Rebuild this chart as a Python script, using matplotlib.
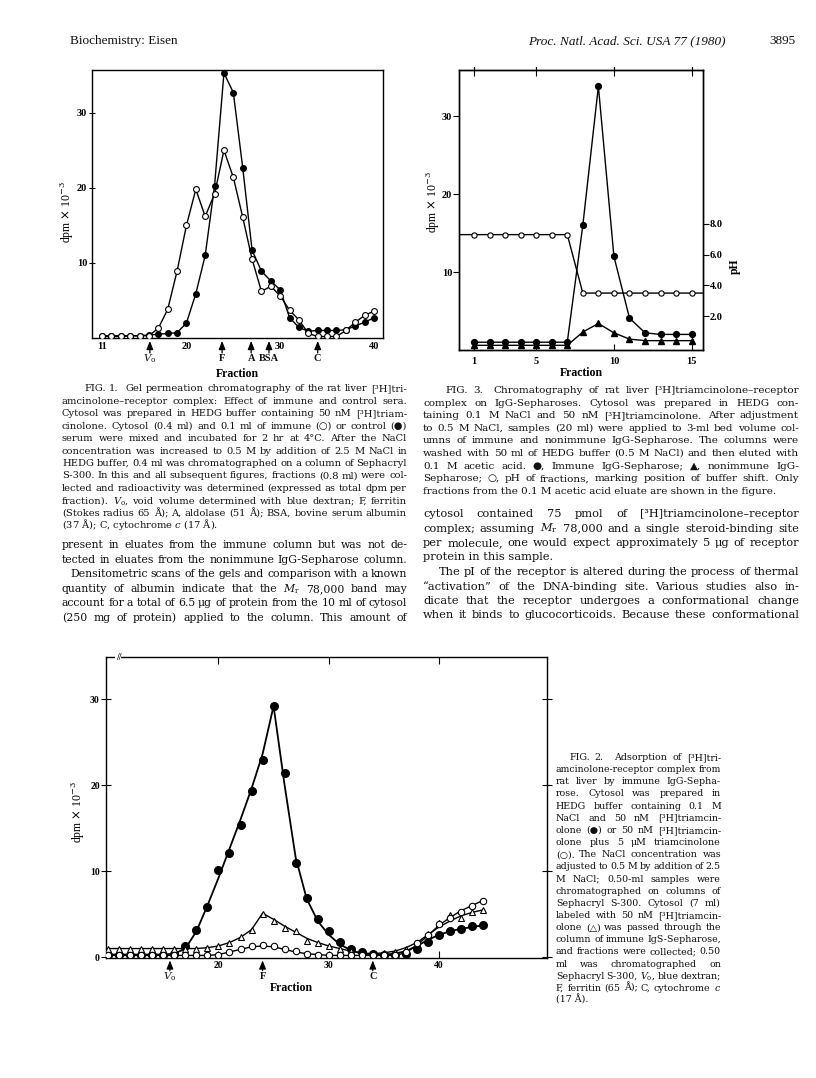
import matplotlib
matplotlib.use("Agg")
import matplotlib.pyplot as plt
from matplotlib.ticker import FormatStrFormatter

# --- 1. PAGE + DATA ---
W, H = 816, 1078

# Fig. 1: gel permeation, immune (open) vs control (filled) serum
fig1_fraction = list(range(11, 41))
fig1_immune = [0.2, 0.2, 0.2, 0.3, 0.3, 0.3, 1.3, 3.8, 8.9, 15.0,
               19.8, 16.2, 19.2, 25.0, 21.4, 16.1, 10.5, 6.2, 6.9, 5.6,
               3.7, 2.4, 0.6, 0.2, 0.2, 0.2, 1.0, 2.1, 3.0, 3.6]
fig1_control = [0.3, 0.3, 0.3, 0.3, 0.3, 0.4, 0.5, 0.6, 0.7, 2.0,
                5.9, 11.0, 20.3, 35.3, 32.7, 22.7, 11.7, 8.9, 7.6, 6.4,
                2.7, 1.4, 0.9, 1.0, 1.0, 1.0, 1.1, 1.6, 2.1, 2.7]
fig1_std_names = ["$V_\\mathrm{o}$", "F", "A", "BSA", "C"]
fig1_std_pos = [16.1, 23.8, 26.9, 28.8, 34.0]

# Fig. 3: IgG-Sepharose eluates
fig3_fraction = list(range(1, 16))
fig3_immune = [1.0, 1.0, 1.0, 1.0, 1.0, 1.0, 1.0, 16.0, 33.8, 12.0, 4.1, 2.2, 2.0, 2.0, 2.0]
fig3_nonimmune = [0.6, 0.6, 0.6, 0.6, 0.6, 0.6, 0.6, 2.3, 3.4, 2.2, 1.4, 1.2, 1.2, 1.2, 1.2]
fig3_ph = [7.3, 7.3, 7.3, 7.3, 7.3, 7.3, 7.3, 3.5, 3.5, 3.5, 3.5, 3.5, 3.5, 3.5, 3.5]

# Fig. 2: adsorption by immune IgG-Sepharose
fig2_fraction = list(range(10, 45))
fig2_hot = [0.3, 0.3, 0.3, 0.3, 0.3, 0.3, 0.4, 1.3, 3.1, 5.8,
            10.1, 12.1, 15.4, 19.3, 22.9, 29.2, 21.4, 10.9, 6.9, 4.4,
            3.0, 1.8, 1.0, 0.6, 0.4, 0.3, 0.3, 0.4, 0.9, 1.8,
            2.6, 3.0, 3.3, 3.6, 3.7]
fig2_flow = [1.0, 1.0, 1.0, 1.0, 1.0, 1.0, 1.0, 1.0, 1.0, 1.1,
             1.3, 1.6, 2.4, 3.1, 5.0, 4.2, 3.4, 3.0, 1.9, 1.6,
             1.3, 1.0, 0.7, 0.5, 0.4, 0.5, 0.6, 0.9, 1.6, 2.7,
             4.0, 4.9, 4.6, 5.3, 5.5]
fig2_cold = [0.2, 0.2, 0.2, 0.2, 0.2, 0.2, 0.2, 0.2, 0.2, 0.2,
             0.3, 0.6, 1.0, 1.3, 1.4, 1.3, 1.0, 0.7, 0.4, 0.3,
             0.2, 0.2, 0.2, 0.2, 0.2, 0.2, 0.2, 0.6, 1.6, 2.6,
             3.9, 4.6, 5.3, 6.0, 6.5]
# hand-drawn smooth curves, read at the same fractions
fig2_hot_curve = [0.3, 0.3, 0.3, 0.3, 0.3, 0.3, 0.4, 1.0, 3.0, 6.0,
                  9.2, 12.6, 16.0, 19.6, 23.6, 29.2, 20.0, 11.6, 6.8, 4.2,
                  2.6, 1.5, 0.8, 0.4, 0.3, 0.3, 0.4, 0.7, 1.3, 2.0,
                  2.6, 3.0, 3.3, 3.5, 3.7]
fig2_flow_curve = [1.0, 1.0, 1.0, 1.0, 1.0, 1.0, 1.0, 1.0, 1.0, 1.1,
                   1.3, 1.7, 2.3, 3.2, 5.1, 4.4, 3.6, 2.9, 2.2, 1.7,
                   1.3, 1.0, 0.7, 0.5, 0.4, 0.5, 0.7, 1.1, 1.7, 2.6,
                   3.5, 4.2, 4.8, 5.2, 5.5]
fig2_cold_curve = [0.2, 0.2, 0.2, 0.2, 0.2, 0.2, 0.2, 0.2, 0.2, 0.2,
                   0.3, 0.6, 0.9, 1.2, 1.3, 1.2, 0.9, 0.6, 0.4, 0.3,
                   0.2, 0.2, 0.2, 0.2, 0.2, 0.2, 0.2, 0.5, 1.4, 2.5,
                   3.7, 4.6, 5.4, 6.0, 6.6]
fig2_std_names = ["$V_\\mathrm{o}$", "F", "C"]
fig2_std_pos = [15.6, 24.0, 34.0]

# --- 2. TEXT ---
fig1_caption = [
    ">FIG. 1.  Gel permeation chromatography of the rat liver [³H]tri-",
    "amcinolone–receptor complex: Effect of immune and control sera.",
    "Cytosol was prepared in HEDG buffer containing 50 nM [³H]triam-",
    "cinolone. Cytosol (0.4 ml) and 0.1 ml of immune (○) or control (●)",
    "serum were mixed and incubated for 2 hr at 4°C. After the NaCl",
    "concentration was increased to 0.5 M by addition of 2.5 M NaCl in",
    "HEDG buffer, 0.4 ml was chromatographed on a column of Sephacryl",
    "S-300. In this and all subsequent figures, fractions (0.8 ml) were col-",
    "lected and radioactivity was determined (expressed as total dpm per",
    "fraction). $V_\\mathrm{o}$, void volume determined with blue dextran; F, ferritin",
    "(Stokes radius 65 Å); A, aldolase (51 Å); BSA, bovine serum albumin",
    "(37 Å); C, cytochrome $c$ (17 Å).|",
]
left_body = [
    "present in eluates from the immune column but was not de-",
    "tected in eluates from the nonimmune IgG-Sepharose column.",
    ">Densitometric scans of the gels and comparison with a known",
    "quantity of albumin indicate that the $M_\\mathrm{r}$ 78,000 band may",
    "account for a total of 6.5 μg of protein from the 10 ml of cytosol",
    "(250 mg of protein) applied to the column. This amount of",
]
fig3_caption = [
    ">FIG. 3.  Chromatography of rat liver [³H]triamcinolone–receptor",
    "complex on IgG-Sepharoses. Cytosol was prepared in HEDG con-",
    "taining 0.1 M NaCl and 50 nM [³H]triamcinolone. After adjustment",
    "to 0.5 M NaCl, samples (20 ml) were applied to 3-ml bed volume col-",
    "umns of immune and nonimmune IgG-Sepharose. The columns were",
    "washed with 50 ml of HEDG buffer (0.5 M NaCl) and then eluted with",
    "0.1 M acetic acid. ●, Immune IgG-Sepharose; ▲, nonimmune IgG-",
    "Sepharose; ○, pH of fractions, marking position of buffer shift. Only",
    "fractions from the 0.1 M acetic acid eluate are shown in the figure.|",
]
right_body = [
    "cytosol contained 75 pmol of [³H]triamcinolone–receptor",
    "complex; assuming $M_\\mathrm{r}$ 78,000 and a single steroid-binding site",
    "per molecule, one would expect approximately 5 μg of receptor",
    "protein in this sample.|",
    ">The pI of the receptor is altered during the process of thermal",
    "“activation” of the DNA-binding site. Various studies also in-",
    "dicate that the receptor undergoes a conformational change",
    "when it binds to glucocorticoids. Because these conformational",
]
fig2_caption = [
    ">FIG. 2.  Adsorption of [³H]tri-",
    "amcinolone-receptor complex from",
    "rat liver by immune IgG-Sepha-",
    "rose. Cytosol was prepared in",
    "HEDG buffer containing 0.1 M",
    "NaCl and 50 nM [³H]triamcin-",
    "olone (●) or 50 nM [³H]triamcin-",
    "olone plus 5 μM triamcinolone",
    "(○). The NaCl concentration was",
    "adjusted to 0.5 M by addition of 2.5",
    "M NaCl; 0.50-ml samples were",
    "chromatographed on columns of",
    "Sephacryl S-300. Cytosol (7 ml)",
    "labeled with 50 nM [³H]triamcin-",
    "olone (△) was passed through the",
    "column of immune IgS-Sepharose,",
    "and fractions were collected; 0.50",
    "ml was chromatographed on",
    "Sephacryl S-300, $V_\\mathrm{o}$, blue dextran;",
    "F, ferritin (65 Å); C, cytochrome $c$",
    "(17 Å).|",
]

# --- 3. STYLE ---
plt.rcParams['font.family'] = ['Liberation Serif', 'DejaVu Sans']
plt.rcParams['mathtext.fontset'] = 'custom'
plt.rcParams['mathtext.rm'] = 'DejaVu Serif'
plt.rcParams['mathtext.it'] = 'DejaVu Serif:italic'
plt.rcParams['mathtext.bf'] = 'DejaVu Serif:bold'
plt.rcParams['axes.linewidth'] = 1.0
plt.rcParams['text.color'] = '#111111'
BODY_FONT = ['DejaVu Serif', 'DejaVu Sans']

fig = plt.figure(figsize=(W / 100, H / 100), dpi=100)
rend = fig.canvas.get_renderer()


def axes_px(l, t, r, b):
    return fig.add_axes([l / W, 1 - b / H, (r - l) / W, (b - t) / H])


def text_block(lines, x0, x1, y0, dy, size, indent):
    # justified lines; '>' = indented first line, '|' = last line of paragraph
    for i, raw in enumerate(lines):
        y = 1 - (y0 + i * dy) / H
        left = x0 + (indent if raw.startswith('>') else 0)
        s = raw.lstrip('>')
        if s.endswith('|'):
            fig.text(left / W, y, s[:-1], fontsize=size, va='baseline', family=BODY_FONT)
            continue
        parts = [fig.text(0, y, w, fontsize=size, va='baseline', family=BODY_FONT)
                 for w in s.split(' ')]
        widths = [p.get_window_extent(rend).width for p in parts]
        gap = (x1 - left - sum(widths)) / (len(parts) - 1)
        if gap < 2.0:
            k = (x1 - left - 2.0 * (len(parts) - 1)) / sum(widths)
            for p in parts:
                p.set_fontsize(size * k)
            widths = [w * k for w in widths]
            gap = 2.0
        x = left
        for p, w in zip(parts, widths):
            p.set_x(x / W)
            x += w + gap


def standards(ax, names, pos, y0, y1, ylab, size):
    tr = ax.get_xaxis_transform()
    for name, x in zip(names, pos):
        ax.annotate('', xy=(x, y1), xytext=(x, y0), xycoords=tr, textcoords=tr,
                    annotation_clip=False,
                    arrowprops=dict(arrowstyle='-|>,head_length=0.5,head_width=0.2',
                                    color='k', lw=0.9, shrinkA=0, shrinkB=0))
        ax.text(x, ylab, name, transform=tr, ha='center', va='center',
                fontsize=size, fontweight='bold')


def bold_ticks(ax):
    for t in ax.get_xticklabels() + ax.get_yticklabels():
        t.set_fontweight('bold')


# --- 4. HEADER ---
fig.text(70 / W, 1 - 44 / H, "Biochemistry: Eisen", fontsize=9.5, va='baseline')
fig.text(726 / W, 1 - 44 / H, "Proc. Natl. Acad. Sci. USA 77 (1980)", fontsize=9.5,
         style='italic', ha='right', va='baseline')
fig.text(796 / W, 1 - 44 / H, "3895", fontsize=9.5, ha='right', va='baseline')

# --- 5. FIG. 1 ---
ax1 = axes_px(92, 70, 383, 338)
ax1.plot(fig1_fraction, fig1_control, '-o', color='k', lw=1.0, ms=4, zorder=3)
ax1.plot(fig1_fraction, fig1_immune, '-o', color='k', lw=1.0, ms=4.2,
         mfc='white', mec='k', mew=0.8, zorder=4)
ax1.set_xlim(9.93, 40.96)
ax1.set_ylim(0, 35.7)
ax1.set_xticks([11, 20, 30, 40])
ax1.set_yticks([10, 20, 30])
ax1.tick_params(axis='x', length=0, pad=3, labelsize=7.5)
ax1.tick_params(axis='y', direction='inout', length=5, pad=1, labelsize=7.5)
bold_ticks(ax1)
ax1.set_ylabel("dpm $\\times$ 10$^{-3}$", fontsize=8.5, va='center')
ax1.yaxis.set_label_coords(-25 / 291, 0.47)
ax1.set_xlabel("Fraction", fontsize=8.5, fontweight='bold', va='center')
ax1.xaxis.set_label_coords(0.5, -36 / 268)
standards(ax1, fig1_std_names, fig1_std_pos, -0.056, -0.011, -0.077, 7.5)

# --- 6. FIG. 3 ---
ax3 = axes_px(459, 70, 703, 350)
ax3.set_xlim(0.035, 15.73)
ax3.set_ylim(0, 35.9)
ax3.plot(fig3_fraction, fig3_nonimmune, '-^', color='k', lw=1.0, ms=4.2, zorder=3)
ax3.plot(fig3_fraction, fig3_immune, '-o', color='k', lw=1.0, ms=4.2, zorder=4)
ax3.set_xticks([1, 5, 10, 15])
ax3.set_yticks([10, 20, 30])
ax3.tick_params(axis='x', which='both', top=True, direction='in', length=4, pad=5, labelsize=7.5)
ax3.tick_params(axis='y', direction='out', length=4, pad=1, labelsize=7.5)
bold_ticks(ax3)
ax3.set_ylabel("dpm $\\times$ 10$^{-3}$", fontsize=8.5, va='center')
ax3.yaxis.set_label_coords(-26 / 244, 0.53)
ax3.set_xlabel("Fraction", fontsize=8.5, fontweight='bold', va='center')
ax3.xaxis.set_label_coords(0.5, -23 / 280)

axp = ax3.twinx()
axp.set_ylim(-0.2, 18.0)
xl = ax3.get_xlim()
axp.plot([xl[0]] + fig3_fraction + [xl[1]], [fig3_ph[0]] + fig3_ph + [fig3_ph[-1]],
         '-', color='k', lw=1.0, zorder=2)
axp.plot(fig3_fraction, fig3_ph, 'o', ms=3.8, mfc='white', mec='k', mew=0.8, zorder=5)
axp.set_xlim(xl)
axp.set_yticks([2, 4, 6, 8])
axp.yaxis.set_major_formatter(FormatStrFormatter('%.1f'))
axp.tick_params(axis='y', direction='out', length=4, pad=1, labelsize=7.5)
bold_ticks(axp)
axp.set_ylabel("pH", fontsize=8.5, fontweight='bold', rotation=90, va='center')
axp.yaxis.set_label_coords(1.131, 0.30)
# top ticks of the frame cross the spine
for x in [1, 5, 10, 15]:
    ax3.plot([x, x], [1.0, 1.012], transform=ax3.get_xaxis_transform(),
             color='k', lw=0.9, clip_on=False)

# --- 7. FIG. 2 ---
ax2 = axes_px(106, 657, 547, 958)
ax2.set_xlim(9.8, 49.8)
ax2.set_ylim(-0.1, 34.9)
ax2.plot(fig2_fraction, fig2_hot_curve, '-', color='k', lw=1.3, zorder=2)
ax2.plot(fig2_fraction, fig2_flow_curve, '-', color='k', lw=1.0, zorder=2)
ax2.plot(fig2_fraction, fig2_cold_curve, '-', color='k', lw=1.0, zorder=2)
ax2.plot(fig2_fraction, fig2_hot, 'o', color='k', ms=5.5, ls='none', zorder=4)
ax2.plot(fig2_fraction, fig2_flow, '^', ms=4.6, mfc='white', mec='k', mew=0.8, ls='none', zorder=5)
ax2.plot(fig2_fraction, fig2_cold, 'o', ms=4.6, mfc='white', mec='k', mew=0.8, ls='none', zorder=5)
ax2.set_xticks([20, 30, 40])
ax2.set_yticks([0, 10, 20, 30])
ax2.tick_params(axis='x', which='both', top=True, direction='in', length=5, pad=2, labelsize=7)
ax2.tick_params(axis='y', which='both', right=True, direction='inout', length=7, pad=1, labelsize=7)
bold_ticks(ax2)
ax2.set_ylabel("dpm $\\times$ 10$^{-3}$", fontsize=8.5, va='center')
ax2.yaxis.set_label_coords(-28 / 441, 0.485)
ax2.set_xlabel("Fraction", fontsize=8.5, fontweight='bold', va='center')
ax2.xaxis.set_label_coords(0.42, -30 / 301)
standards(ax2, fig2_std_names, fig2_std_pos, -0.042, -0.008, -0.062, 7.5)
ax2.text(0.028, 1.0, "//", transform=ax2.transAxes, ha='center', va='center',
         fontsize=7, fontweight='bold',
         bbox=dict(fc='white', ec='none', pad=0.2))

# --- 8. TEXT BLOCKS ---
text_block(fig1_caption, 62, 407, 391, 12.5, 7.1, 22)
text_block(left_body, 62, 407, 548, 14.6, 7.8, 8)
text_block(fig3_caption, 423, 799, 393, 12.6, 7.5, 22)
text_block(right_body, 423, 799, 517, 14.5, 8.2, 16)
text_block(fig2_caption, 556, 721, 760, 12.15, 6.8, 13)

plt.savefig("out.png", dpi=100, facecolor='white')
